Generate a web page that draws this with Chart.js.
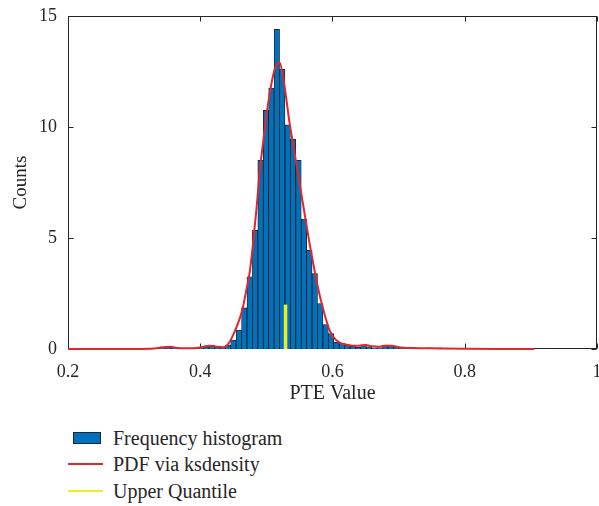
<!DOCTYPE html>
<html>
<head>
<meta charset="utf-8">
<script src="https://cdn.jsdelivr.net/npm/chart.js@4/dist/chart.umd.min.js"></script>
<style>
  html, body { margin: 0; padding: 0; background: #fff; overflow: hidden; }
  #wrap { position: absolute; left: 0; top: 0; width: 599px; height: 410px; }
  .legend { position: absolute; left: 0; top: 0; font-family: 'Liberation Serif', serif; font-size: 20px; color: #262626; }
  .row { position: absolute; left: 68px; height: 24px; width: 300px; }
  .row span { position: absolute; left: 45px; top: 0; line-height: 24px; white-space: nowrap; }
  .box { position: absolute; left: 5px; top: 6px; width: 26px; height: 10px; background: #0072bd; border: 1px solid #262626; }
  .ln { position: absolute; left: 0; top: 11px; width: 35px; height: 1.5px; }
</style>
</head>
<body>
<div id="wrap"><canvas id="mycanvas"></canvas></div>
<div class="legend">
  <div class="row" style="top:426px"><div class="box"></div><span>Frequency histogram</span></div>
  <div class="row" style="top:452px"><div class="ln" style="background:#e0262e"></div><span>PDF via ksdensity</span></div>
  <div class="row" style="top:479px"><div class="ln" style="background:#eeee22"></div><span>Upper Quantile</span></div>
</div>
<script>
// histogram bins (centres) and heights
var binCenters = [0.3436, 0.3518, 0.3600, 0.3682, 0.3764, 0.3846, 0.3928, 0.4010, 0.4092, 0.4174,
  0.4256, 0.4338, 0.4420, 0.4502, 0.4584, 0.4666, 0.4748, 0.4830, 0.4912, 0.4994,
  0.5076, 0.5158, 0.5240, 0.5322, 0.5404, 0.5486, 0.5568, 0.5650, 0.5732, 0.5814,
  0.5896, 0.5978, 0.6060, 0.6142, 0.6224, 0.6306, 0.6388, 0.6470, 0.6552, 0.6634,
  0.6716, 0.6798, 0.6880, 0.6962, 0.7044, 0.7126, 0.7208, 0.7290, 0.7372, 0.7454,
  0.7536, 0.7618];
var binCounts = [0.1, 0.1, 0.08, 0.03, 0.03, 0.03, 0.05, 0.05, 0.1, 0.18,
  0.1, 0.05, 0.18, 0.4, 0.85, 1.85, 3.25, 5.35, 8.5, 10.75,
  11.75, 14.4, 12.6, 10.1, 9.45, 8.5, 5.85, 4.45, 3.4, 2.05,
  1.1, 0.7, 0.3, 0.25, 0.18, 0.12, 0.08, 0.18, 0.1, 0.05,
  0.05, 0.18, 0.15, 0.1, 0.05, 0.03, 0.05, 0.03, 0.03, 0.05,
  0.03, 0.05];

// ksdensity curve
var pdfX = [0.20, 0.25, 0.30, 0.33, 0.345, 0.355, 0.365, 0.38, 0.395, 0.405, 0.413, 0.425, 0.435, 0.44,
  0.445, 0.45, 0.455, 0.46, 0.465, 0.47, 0.475, 0.48, 0.485, 0.49, 0.495, 0.50, 0.505, 0.51, 0.515,
  0.52, 0.525, 0.53, 0.535, 0.54, 0.545, 0.55, 0.555, 0.56, 0.565, 0.57, 0.575, 0.58, 0.585, 0.59,
  0.595, 0.60, 0.61, 0.62, 0.63, 0.64, 0.65, 0.66, 0.67, 0.68, 0.69, 0.70, 0.72, 0.75, 0.77, 0.80,
  0.85, 0.905];
var pdfY = [0, 0, 0, 0.02, 0.08, 0.1, 0.05, 0.03, 0.04, 0.1, 0.15, 0.1, 0.08, 0.15,
  0.35, 0.65, 1.0, 1.4, 1.95, 2.7, 3.5, 4.8, 6.3, 8.0, 9.3, 10.5, 11.5, 12.3, 12.8,
  12.9, 12.3, 11.3, 10.2, 9.3, 8.4, 7.5, 6.6, 5.7, 4.8, 4.0, 3.2, 2.5, 1.9, 1.35,
  0.9, 0.6, 0.3, 0.2, 0.15, 0.15, 0.18, 0.12, 0.1, 0.15, 0.15, 0.08, 0.04, 0.03, 0.02, 0.01,
  0, 0];

// upper quantile marker
var quantileX = [0.529, 0.529];
var quantileY = [0, 2];

var xTicks = [0.2, 0.4, 0.6, 0.8, 1];
var yTicks = [0, 5, 10, 15];

function pts(xs, ys) {
  var out = [];
  for (var i in xs) out.push({x: xs[i], y: ys[i]});
  return out;
}

var axisColor = '#262626';
var serif = "'Liberation Serif', serif";

var framePlugin = {
  id: 'frame',
  beforeDatasetsDraw: function(chart) {
    var ctx = chart.ctx, a = chart.chartArea;
    var x = chart.scales.x, y = chart.scales.y;
    var l = Math.round(a.left) + 0.5, r = Math.round(a.right) - 0.5;
    var t = Math.round(a.top) + 0.5, b = Math.round(a.bottom) - 0.5;
    ctx.save();
    ctx.strokeStyle = axisColor;
    ctx.lineWidth = 1;
    ctx.strokeRect(l, t, r - l, b - t);
    ctx.beginPath();
    xTicks.forEach(function(v) {
      var px = Math.round(x.getPixelForValue(v)) + 0.5;
      ctx.moveTo(px, b); ctx.lineTo(px, b - 5);
      ctx.moveTo(px, t); ctx.lineTo(px, t + 5);
    });
    yTicks.forEach(function(v) {
      var py = Math.round(y.getPixelForValue(v)) + 0.5;
      ctx.moveTo(l, py); ctx.lineTo(l + 5, py);
      ctx.moveTo(r, py); ctx.lineTo(r - 5, py);
    });
    ctx.stroke();
    ctx.restore();
  }
};

var ctx = document.getElementById('mycanvas');
var chart = new Chart(ctx, {
  type: 'bar',
  data: {
    datasets: [
      {
        type: 'line',
        label: 'Upper Quantile',
        data: pts(quantileX, quantileY),
        borderColor: '#eeee22',
        borderWidth: 3.5,
        pointRadius: 0,
        clip: 4,
        order: 0
      },
      {
        type: 'line',
        label: 'PDF via ksdensity',
        data: pts(pdfX, pdfY),
        borderColor: '#e0262e',
        borderWidth: 2,
        pointRadius: 0,
        cubicInterpolationMode: 'monotone',
        clip: 4,
        order: 1
      },
      {
        label: 'Frequency histogram',
        data: pts(binCenters, binCounts),
        backgroundColor: '#0072bd',
        borderColor: '#1a1a1a',
        borderWidth: 0.8,
        barPercentage: 1,
        categoryPercentage: 1,
        order: 2
      }
    ]
  },
  options: {
    responsive: true,
    maintainAspectRatio: false,
    animation: false,
    layout: { padding: { top: 16, left: 0, right: 0, bottom: 0 } },
    plugins: {
      legend: { display: false },
      tooltip: { enabled: false }
    },
    scales: {
      x: {
        type: 'linear',
        offset: false,
        min: 0.2,
        max: 1,
        grid: { display: false },
        border: { display: false },
        ticks: {
          stepSize: 0.2,
          padding: 4,
          color: axisColor,
          font: { family: serif, size: 18 },
          maxRotation: 0,
          callback: function(v) { return Math.abs(v - 1) < 1e-9 ? '1' : v.toFixed(1); }
        },
        title: {
          display: true,
          text: 'PTE Value',
          color: axisColor,
          font: { family: serif, size: 20 },
          padding: { top: 4, bottom: 4 }
        },
        afterFit: function(s) { s.height = 61; s.paddingRight = 2; s.paddingLeft = 0; }
      },
      y: {
        min: 0,
        max: 15,
        grid: { display: false },
        border: { display: false },
        ticks: {
          stepSize: 5,
          padding: 3,
          color: axisColor,
          font: { family: serif, size: 18 }
        },
        title: {
          display: true,
          text: 'Counts',
          color: axisColor,
          font: { family: serif, size: 19 },
          padding: { top: 10, bottom: 4 }
        },
        afterFit: function(s) { s.width = 68; }
      }
    }
  },
  plugins: [framePlugin]
});
</script>
</body>
</html>
